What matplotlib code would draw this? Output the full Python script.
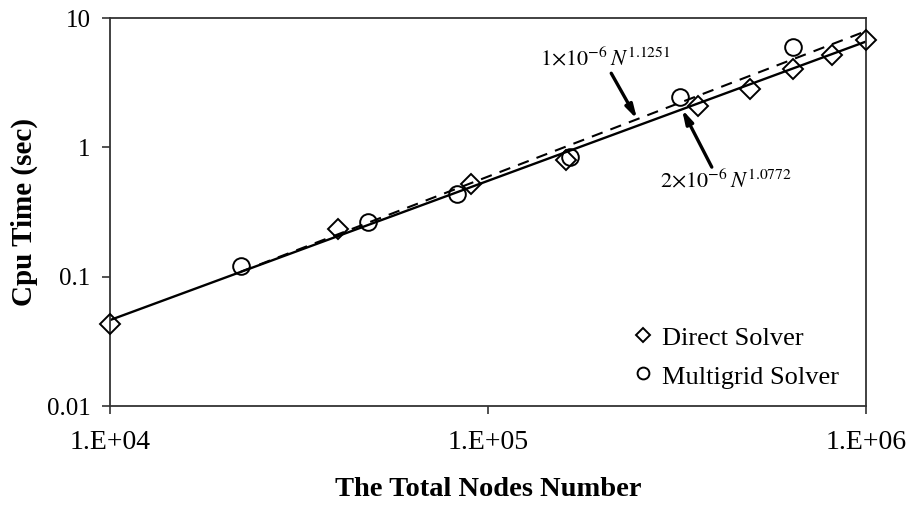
"""CPU time versus total node count for the two solvers."""

import matplotlib.pyplot as plt
import numpy as np

plt.rcParams["font.family"] = ["Liberation Serif", "DejaVu Serif"]
plt.rcParams["mathtext.fontset"] = "stix"

# measured timings
direct_nodes = [1.0e4, 4.02e4, 8.99e4, 1.61e5, 3.59e5, 4.93e5, 6.41e5, 8.12e5, 1.0e6]
direct_time = [0.043, 0.232, 0.524, 0.80, 2.09, 2.83, 4.04, 5.17, 6.76]

multigrid_nodes = [2.22e4, 4.82e4, 8.3e4, 1.644e5, 3.215e5, 6.41e5]
multigrid_time = [0.122, 0.267, 0.439, 0.847, 2.45, 5.97]

# power-law fits  t = c * N**p
direct_fit = (2.27e-6, 1.0772)
multigrid_fit = (1.41e-6, 1.1251)


def fit_curve(fit, n):
    return fit[0] * np.asarray(n) ** fit[1]


fig = plt.figure(figsize=(9.07, 5.05), dpi=100)
ax = fig.add_axes([0.1213, 0.196, 0.8335, 0.768])

n_direct = np.logspace(4, 6, 200)
ax.plot(n_direct, fit_curve(direct_fit, n_direct), color="black", lw=1.7, zorder=2)
n_multi = np.logspace(np.log10(multigrid_nodes[0]), 6, 200)
ax.plot(n_multi, fit_curve(multigrid_fit, n_multi), color="black", lw=1.5,
        ls=(0, (5.5, 4)), zorder=2)

ax.plot(direct_nodes, direct_time, ls="none", marker="D", ms=10.5,
        mfc="none", mec="black", mew=1.4, clip_on=False, zorder=3)
ax.plot(multigrid_nodes, multigrid_time, ls="none", marker="o", ms=12,
        mfc="none", mec="black", mew=1.4, clip_on=False, zorder=3)

ax.set_xscale("log")
ax.set_yscale("log")
ax.set_xlim(1e4, 1e6)
ax.set_ylim(0.01, 10)
ax.set_xticks([1e4, 1e5, 1e6])
ax.set_xticklabels(["1.E+04", "1.E+05", "1.E+06"])
ax.set_yticks([0.01, 0.1, 1, 10])
ax.set_yticklabels(["0.01", "0.1", "1", "10"])
ax.minorticks_off()
ax.tick_params(direction="out", length=6, width=1.2, color="#333333")
ax.tick_params(axis="x", labelsize=20, pad=11)
ax.tick_params(axis="y", labelsize=18, pad=8)
for s in ax.spines.values():
    s.set_linewidth(1.3)
    s.set_color("#333333")

ax.set_xlabel("The Total Nodes Number", fontsize=20.5, fontweight="bold",
              labelpad=16)
ax.set_ylabel("Cpu Time (sec)", fontsize=21, fontweight="bold", labelpad=6)

arrow_style = dict(arrowstyle="-|>,head_width=0.22,head_length=0.8",
                   color="black", lw=2.4, shrinkA=0, shrinkB=0)

# fit labels, arrows pointing at the fitted lines
ax.text(0.569, 0.879, r"$1{\times}10^{-6}\,N^{1.1251}$", transform=ax.transAxes,
        fontsize=16, ha="left", va="baseline")
n_tip = 2.48e5
ax.annotate("", xy=(n_tip, fit_curve(multigrid_fit, n_tip)), xycoords="data",
            xytext=(0.663, 0.858), textcoords="axes fraction",
            arrowprops=arrow_style)

ax.text(0.7275, 0.564, r"$2{\times}10^{-6}\,N^{1.0772}$", transform=ax.transAxes,
        fontsize=16, ha="left", va="baseline")
n_tip = 3.26e5
ax.annotate("", xy=(n_tip, fit_curve(direct_fit, n_tip)), xycoords="data",
            xytext=(0.796, 0.616), textcoords="axes fraction",
            arrowprops=arrow_style)

# legend
ax.plot([0.705], [0.183], transform=ax.transAxes, ls="none", marker="D", ms=7.5,
        mfc="none", mec="black", mew=1.4)
ax.text(0.730, 0.157, "Direct Solver", transform=ax.transAxes, fontsize=19,
        ha="left", va="baseline")
ax.plot([0.705], [0.085], transform=ax.transAxes, ls="none", marker="o", ms=8.5,
        mfc="none", mec="black", mew=1.4)
ax.text(0.730, 0.057, "Multigrid Solver", transform=ax.transAxes, fontsize=19,
        ha="left", va="baseline")

fig.savefig("out.png", dpi=100)
plt.close(fig)
